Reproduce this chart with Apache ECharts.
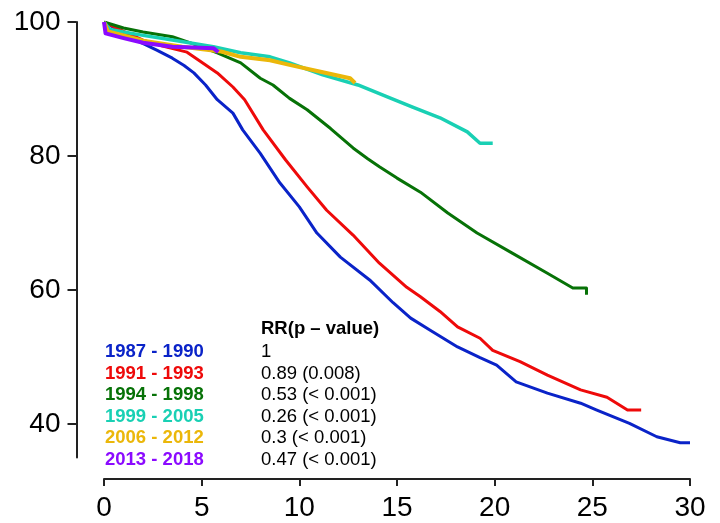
<!DOCTYPE html>
<html>
<head>
<meta charset="utf-8">
<script src="https://cdn.jsdelivr.net/npm/echarts@6/dist/echarts.min.js"></script>
<style>html,body{margin:0;padding:0;background:#fff}#c{width:720px;height:523px}</style>
</head>
<body>
<div id="c"></div>
<script>
// ---- data ----
const periods = ['1987 - 1990', '1991 - 1993', '1994 - 1998', '1999 - 2005', '2006 - 2012', '2013 - 2018'];
const rrHeader = 'RR(p \u2013 value)';
const rrLabels = ['1', '0.89 (0.008)', '0.53 (< 0.001)', '0.26 (< 0.001)', '0.3 (< 0.001)', '0.47 (< 0.001)'];
const xTicks = [0, 5, 10, 15, 20, 25, 30];
const yTicks = [40, 60, 80, 100];

const s1987 = [[0,100],[0.5,99.2],[1,98.4],[1.85,97.0],[2.7,95.8],[3.5,94.6],[4.1,93.5],[4.6,92.4],[5.2,90.6],[5.8,88.4],[6.6,86.4],[7.1,83.9],[8,80.4],[9,76],[10,72.4],[10.9,68.5],[12.1,64.9],[13.6,61.5],[14.8,58.1],[15.7,55.8],[16.7,54],[18.1,51.5],[19.25,49.9],[20.1,48.8],[21.1,46.3],[22.7,44.6],[24.4,43.1],[25.2,42.1],[26.9,40.1],[28.3,38.1],[29.5,37.2],[30,37.2]];
const s1991 = [[0,100],[1,98.6],[2,97.3],[3,96.4],[4.25,95.5],[5,94],[5.8,92.4],[6.6,90.3],[7.2,88.4],[8.15,83.9],[9.3,79.4],[10.4,75.4],[11.4,71.9],[12.75,68.2],[14.1,64],[15.5,60.4],[16.2,59],[17.2,56.8],[18.1,54.5],[19.25,52.8],[19.9,51],[21.3,49.3],[22.7,47.3],[24.4,45.1],[25.75,44],[26.8,42.1],[27.5,42.1]];
const s1994 = [[0,100],[1,99.1],[2,98.5],[3.5,97.8],[4.5,96.8],[5.8,95.4],[7,93.9],[8,91.6],[8.65,90.6],[9.5,88.6],[10.4,86.9],[11.6,84.1],[12.75,81.2],[13.5,79.6],[14.1,78.4],[15,76.7],[16.2,74.6],[17.6,71.5],[19.1,68.5],[20.9,65.5],[22.7,62.5],[24,60.3],[24.7,60.3],[24.7,59.3]];
const s1999 = [[0,100],[0.3,98.9],[1,98.5],[2,98],[3.5,97.3],[5.6,96.3],[7,95.4],[8.5,94.8],[9.5,93.9],[11.2,92.1],[13,90.6],[14.6,88.7],[15.8,87.3],[17.2,85.7],[18.6,83.6],[19.25,81.9],[19.9,81.9]];
const s2006 = [[0,100],[0.2,98.6],[1,98],[2,97.2],[4,96.3],[6,95.6],[7,94.8],[8.5,94.3],[9.5,93.6],[11.2,92.5],[12.6,91.6],[12.85,90.9]];
const s2013 = [[0,100],[0.08,98.3],[1,97.6],[2,96.9],[3.5,96.3],[5.6,96.1],[5.85,95.5]];

const seriesData = [s1987, s1991, s1994, s1999, s2006, s2013];
const colors = ['#0a23c8', '#ee0a0a', '#077207', '#19d0b4', '#ebb70a', '#8b0aff'];
const widths = [3, 3, 3, 3.5, 4, 4];

const chart = echarts.init(document.getElementById('c'), null, {renderer: 'canvas'});
const FONT = 'Liberation Sans, Arial, sans-serif';

const graphics = [];
graphics.push({type: 'text', left: 261, top: 319, style: {text: rrHeader, fill: '#000', font: 'bold 18.5px ' + FONT}});
periods.forEach((p, i) => {
  const top = 342.5 + i * 21.6;
  graphics.push({type: 'text', left: 105, top: top, style: {text: p, fill: colors[i], font: 'bold 18.5px ' + FONT}});
  graphics.push({type: 'text', left: 261, top: top, style: {text: rrLabels[i], fill: '#000', font: '18.5px ' + FONT}});
});

chart.setOption({
  animation: false,
  backgroundColor: '#fff',
  grid: {left: 104, right: 30, top: 22, bottom: 65.5, containLabel: false},
  xAxis: {
    type: 'value', min: 0, max: 30, interval: 5, offset: 21.5,
    axisLine: {show: true, onZero: false, lineStyle: {color: '#222', width: 2}},
    axisTick: {show: true, length: 7, lineStyle: {color: '#222', width: 2}, customValues: xTicks},
    axisLabel: {fontSize: 28, fontFamily: FONT, color: '#000', margin: 15, customValues: xTicks},
    splitLine: {show: false}
  },
  yAxis: {
    type: 'value', min: 35, max: 100, offset: 27.5,
    axisLine: {show: true, onZero: false, lineStyle: {color: '#222', width: 2}},
    axisTick: {show: true, length: 9, lineStyle: {color: '#222', width: 2}, customValues: yTicks},
    axisLabel: {fontSize: 28, fontFamily: FONT, color: '#000', margin: 16, customValues: yTicks},
    splitLine: {show: false}
  },
  series: seriesData.map((d, i) => ({
    name: periods[i], type: 'line', data: d, showSymbol: false, symbol: 'none',
    lineStyle: {color: colors[i], width: widths[i], join: 'round'},
    z: 2 + i
  })),
  graphic: graphics
});
</script>
</body>
</html>
